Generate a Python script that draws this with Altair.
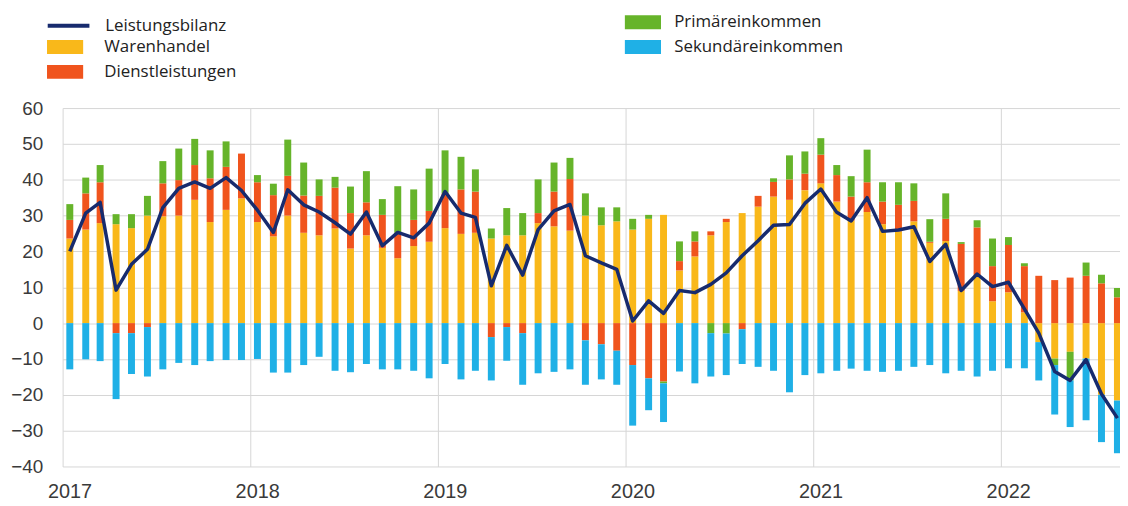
import altair as alt
import pandas as pd

# Monthly data, Jan 2017 - Aug 2022 (EUR bn)
months = [f"{2017 + i // 12}-{i % 12 + 1:02d}-15" for i in range(68)]

warenhandel = [
    23.6, 26.1, 27.9, 27.6, 26.5, 30.0, 29.8, 30.0, 34.4, 28.2, 31.6, 34.8,
    28.2, 24.2, 30.0, 25.2, 24.5, 26.4, 20.8, 24.5, 21.0, 18.1, 21.5, 22.7,
    26.5, 24.9, 25.2, 23.6, 24.5, 24.5, 27.9, 27.0, 25.8, 30.0, 27.3, 28.4,
    26.1, 29.1, 30.2, 14.7, 18.6, 24.5, 28.2, 30.7, 32.5, 35.3, 34.4, 37.1,
    39.0, 33.9, 28.6, 31.0, 27.6, 25.6, 28.4, 22.4, 22.9, 9.0, 13.2, 6.1,
    8.6, 3.0, -5.3, -9.9, -8.0, -9.9, -20.0, -21.6,
]
dienstleistungen = [
    5.2, 10.1, 11.4, -2.8, -2.8, -1.1, 9.2, 9.9, 9.7, 12.2, 12.0, 12.5,
    11.1, 11.5, 11.1, 10.4, 11.0, 11.4, 9.9, 9.2, 9.2, 7.1, 7.3, 8.6,
    9.7, 12.4, 11.5, -3.9, -1.1, -2.8, 2.8, 9.7, 14.4, -4.8, -5.9, -7.7,
    -11.7, -15.4, -16.3, 2.6, 4.2, 1.1, 0.9, -1.7, 3.0, 4.1, 5.7, 4.6,
    8.0, 7.4, 6.7, 8.3, 6.3, 7.4, 5.7, 0.3, 6.2, 13.1, 13.5, 9.8,
    13.2, 12.9, 13.2, 12.0, 12.7, 13.2, 11.1, 7.2,
]
primaereinkommen = [
    4.4, 4.4, 4.8, 2.8, 3.9, 5.5, 6.2, 8.8, 7.3, 7.8, 7.1, 0.0,
    2.0, 3.2, 10.1, 9.2, 4.6, 3.0, 7.4, 8.7, 4.4, 13.0, 8.5, 11.8,
    12.0, 9.1, 6.2, 2.8, 7.6, 6.2, 9.4, 8.1, 5.9, 6.2, 5.0, 3.9,
    3.0, 1.1, -0.5, 5.5, 2.8, -2.8, -2.9, 0.0, 0.0, 1.0, 6.7, 6.2,
    4.6, 2.8, 5.7, 9.1, 5.4, 6.3, 4.9, 6.3, 7.1, 0.5, 2.0, 7.7,
    2.2, 0.8, 0.0, -1.8, -8.0, 3.7, 2.4, 2.6,
]
sekundaereinkommen = [
    -12.9, -10.1, -10.6, -18.4, -11.4, -13.8, -12.9, -11.1, -11.7, -10.6, -10.3, -10.3,
    -10.0, -13.8, -13.8, -11.7, -9.4, -13.3, -13.7, -11.4, -12.9, -12.9, -13.3, -15.4,
    -11.4, -15.7, -13.3, -12.1, -9.4, -14.4, -14.0, -13.6, -12.9, -12.4, -9.8, -9.5,
    -16.9, -8.9, -10.8, -13.5, -16.8, -12.1, -11.6, -9.7, -12.2, -13.3, -19.3, -14.5,
    -14.0, -13.3, -12.7, -13.3, -13.6, -13.3, -12.2, -11.7, -14.0, -13.3, -14.9, -13.3,
    -12.6, -12.6, -10.7, -13.8, -13.0, -17.2, -13.2, -14.7,
]
leistungsbilanz = [
    20.0, 30.7, 33.7, 9.2, 16.4, 20.6, 32.2, 37.6, 39.4, 37.6, 40.6, 37.0,
    31.5, 25.3, 37.2, 33.0, 31.0, 28.0, 24.8, 31.0, 21.6, 25.3, 23.8, 27.9,
    36.7, 30.7, 29.5, 10.4, 21.7, 13.4, 26.1, 31.3, 33.1, 18.8, 16.8, 15.0,
    0.6, 6.2, 2.7, 9.1, 8.5, 10.8, 14.0, 18.8, 23.0, 27.3, 27.5, 33.4,
    37.4, 30.9, 28.5, 35.0, 25.6, 26.0, 26.9, 17.2, 22.0, 9.1, 13.7, 10.2,
    11.4, 4.0, -2.8, -13.5, -16.0, -10.2, -19.8, -26.5,
]

series_names = ["Warenhandel", "Dienstleistungen", "Primäreinkommen", "Sekundäreinkommen"]
series_values = [warenhandel, dienstleistungen, primaereinkommen, sekundaereinkommen]
series_colors = ["#f9b81a", "#f0541d", "#66b42a", "#1fb0e6"]
line_name = "Leistungsbilanz"
line_color = "#172b6e"
year_ticks = [2017, 2018, 2019, 2020, 2021, 2022]
y_ticks = list(range(-40, 61, 10))

rows = []
for k, (name, vals) in enumerate(zip(series_names, series_values)):
    for d, v in zip(months, vals):
        rows.append({"date": d, "series": name, "value": v, "order": k})
bars_df = pd.DataFrame(rows)
line_df = pd.DataFrame({"date": months, "value": leistungsbilanz, "name": line_name})

AXIS_FONT = "Liberation Sans"
LEG_FONT = "Open Sans"
TXT = "#3a3a3a"
GRID = "#d6d6d6"

xscale = alt.Scale(
    type="utc",
    padding=0,
    domain=[alt.DateTime(year=2017, month=1, date=1, utc=True),
            alt.DateTime(year=2022, month=8, date=20, utc=True)],
)
xaxis = alt.Axis(
    values=[alt.DateTime(year=y, month=1, date=1, utc=True) for y in year_ticks],
    format="%Y", labelOffset=7, labelFlush=False, labelOverlap=False,
    labelFont=AXIS_FONT, labelFontSize=20,
    labelColor=TXT, labelPadding=15, ticks=False, domain=False,
    grid=True, gridColor=GRID, gridWidth=1, title=None,
)
yscale = alt.Scale(domain=[-40, 60], nice=False, zero=False)
yaxis = alt.Axis(
    values=y_ticks, labelFont=AXIS_FONT, labelFontSize=19, labelColor=TXT,
    labelPadding=20, ticks=False, domain=False, grid=True, gridColor=GRID,
    gridWidth=1, title=None,
)

RECT = "M-2.6,-1H2.6V1H-2.6Z"

stacked = alt.Chart(bars_df).transform_stack(
    stack="value", groupby=["date"], as_=["y0", "y1"],
    sort=[alt.SortField("order", order="ascending")], offset="zero",
)

def bar_layer(names, colors, lx, ly, label_offset):
    return stacked.transform_filter(
        alt.FieldOneOfPredicate(field="series", oneOf=names)
    ).mark_bar(size=7).encode(
        x=alt.X("date:T", scale=xscale, axis=xaxis),
        y=alt.Y("y0:Q", scale=yscale, axis=yaxis),
        y2="y1:Q",
        color=alt.Color(
            "series:N",
            scale=alt.Scale(domain=names, range=colors),
            legend=alt.Legend(
                title=None, orient="none", legendX=lx, legendY=ly,
                symbolType=RECT, symbolSize=196, symbolStrokeWidth=0,
                symbolOpacity=1, labelFont=LEG_FONT, labelFontSize=17,
                labelColor="#222222", labelOffset=label_offset, rowPadding=7,
                labelLimit=0, padding=0,
            ),
        ),
    )

bars_a = bar_layer(series_names[:2], series_colors[:2], -6, -70, 31)
bars_b = bar_layer(series_names[2:], series_colors[2:], 576, -95, 23)

line = alt.Chart(line_df).mark_line(strokeWidth=3.5, strokeJoin="round").encode(
    x=alt.X("date:T", scale=xscale, axis=xaxis),
    y=alt.Y("value:Q", scale=yscale, axis=yaxis),
    color=alt.Color(
        "name:N",
        scale=alt.Scale(domain=[line_name], range=[line_color]),
        legend=alt.Legend(
            title=None, orient="none", legendX=-17, legendY=-106,
            symbolType="stroke", symbolSize=1764, symbolStrokeWidth=4,
            labelFont=LEG_FONT, labelFontSize=17, labelColor="#222222",
            labelOffset=14, labelLimit=0, padding=0,
        ),
    ),
)

chart = alt.layer(bars_a, bars_b, line).resolve_scale(
    color="independent"
).properties(
    width=1065, height=361,
    autosize=alt.AutoSizeParams(type="none"),
    padding={"left": 55, "top": 99, "right": 0, "bottom": 36},
    background="white",
).configure_view(stroke=None)

chart.save("out.html", embed_options={"renderer": "svg", "actions": False})
